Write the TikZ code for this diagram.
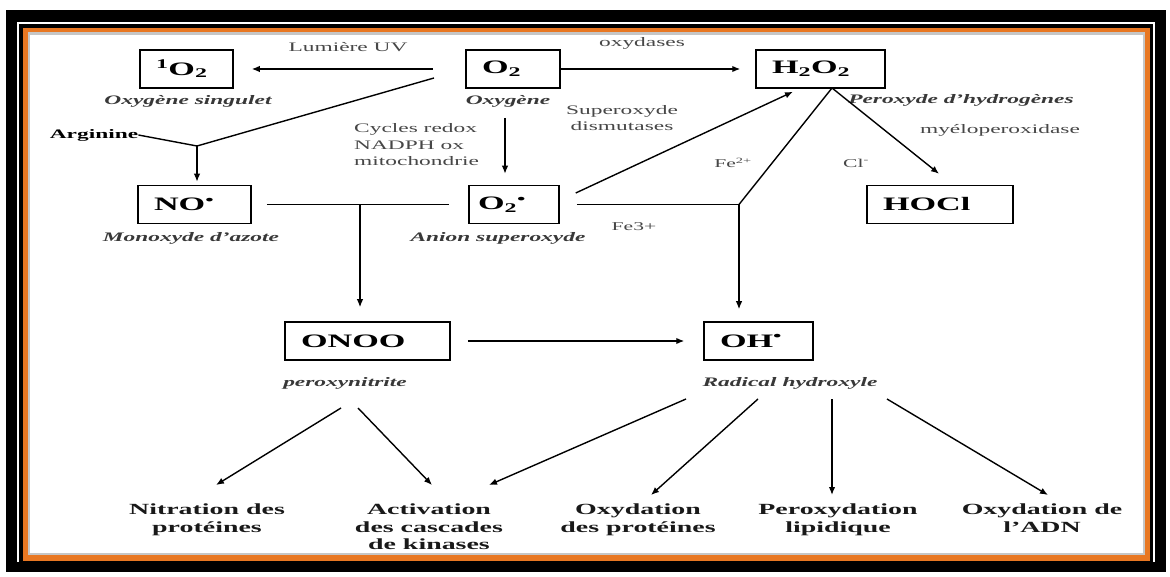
\documentclass[tikz,border=0pt]{standalone}
\usepackage{fontspec}
\setmainfont{Liberation Serif}[FakeStretch=1.8]
\usetikzlibrary{arrows.meta}
\definecolor{frameorange}{RGB}{232,119,34}

\tikzset{
  arr/.style={line width=1.4pt, -{Latex[length=8pt,width=6.5pt]}},
  ln/.style={line width=1.4pt},
  species/.style={draw, line width=1.5pt, minimum height=38pt, inner xsep=16pt,
    inner ysep=0pt, align=left, font=\fontsize{19}{22}\selectfont\bfseries},
  note/.style={font=\fontsize{13}{16.5}\selectfont, text=black!72, inner sep=0pt},
  small note/.style={font=\fontsize{12}{14}\selectfont, text=black!72, inner sep=0pt},
  spname/.style={font=\fontsize{13}{16}\selectfont\bfseries\itshape, text=black!78, inner sep=0pt},
  effect/.style={font=\fontsize{15.5}{17.5}\selectfont\bfseries, align=center,
    inner sep=0pt, anchor=north, text=black!90},
}

\begin{document}
\begin{tikzpicture}[x=1pt,y=-1pt]
\useasboundingbox (0,0) rectangle (1170,577);

% framed page border
\fill[black] (6,10) rectangle (1166,572);
\fill[white] (17,22) rectangle (1155,562);
\fill[black] (19,24) rectangle (1153,562);
\fill[frameorange] (23,28) rectangle (1150,561);
\fill[gray!45] (28,32) rectangle (1145,555);
\fill[white] (30,35) rectangle (1143,553);

% reactive species
\node[species, text width=61pt] (so2) at (186.5,69) {\textsuperscript{1}O\textsubscript{2}};
\node[species, text width=62pt, line width=2.6pt] (o2) at (513,69) {O\textsubscript{2}};
\node[species, text width=97pt] (h2o2) at (820.5,69) {H\textsubscript{2}O\textsubscript{2}};
\node[species, text width=81pt, inner xsep=16pt] (no) at (194.5,204.5) {NO\textsuperscript{•}};
\node[species, text width=72pt, inner xsep=9pt] (o2r) at (514,204.5) {O\textsubscript{2}\textsuperscript{•}};
\node[species, text width=114pt] (hocl) at (940,204.5) {HOCl};
\node[species, text width=133pt] (onoo) at (367.5,341) {ONOO};
\node[species, text width=77pt] (oh) at (758.5,341) {OH\textsuperscript{•}};

% names and reaction conditions
\node[note] (uv) at (348,47) {Lumière UV};
\node[note] (oxyd) at (642,43) {oxydases};
\node[spname] (lso2) at (188,101) {Oxygène singulet};
\node[spname] (lo2) at (508,101) {Oxygène};
\node[spname] (lh2o2) at (961,100) {Peroxyde d'hydrogènes};
\node[note, align=center] (sod) at (622,118) {Superoxyde\\dismutases};
\node[note] (mpo) at (1000,130) {myéloperoxidase};
\node[note, text=black, font=\fontsize{13}{16}\selectfont\bfseries] (arg) at (94,135) {Arginine};
\node[note, align=left, anchor=west] (redox) at (354,145) {Cycles redox\\NADPH ox\\mitochondrie};
\node[small note] (fe2) at (733,163) {Fe\textsuperscript{2+}};
\node[small note] (cl) at (856,163) {Cl\textsuperscript{-}};
\node[small note] (fe3) at (634,227) {Fe3+};
\node[spname] (lno) at (191,238) {Monoxyde d'azote};
\node[spname] (lo2r) at (498,238) {Anion superoxyde};
\node[spname] (lonoo) at (345,383) {peroxynitrite};
\node[spname] (loh) at (790,383) {Radical hydroxyle};

% cellular effects
\node[effect] (nitr) at (207,504) {Nitration des\\protéines};
\node[effect] (kin) at (429,504) {Activation\\des cascades\\de kinases};
\node[effect] (oxprot) at (638,504) {Oxydation\\des protéines};
\node[effect] (lipid) at (838,504) {Peroxydation\\lipidique};
\node[effect] (adn) at (1042,504) {Oxydation de\\l'ADN};

% junction points and free ends
\coordinate (o2out) at (434,78);
\coordinate (argj) at (197,146);
\coordinate (o2down) at (505,118);
\coordinate (nojoin) at (360,204.5);
\coordinate (fejoin) at (739,204.5);
\coordinate (h2out) at (832,88);
\coordinate (pn1) at (341,408);
\coordinate (pn2) at (358,408);
\coordinate (rh1) at (686,399);
\coordinate (rh2) at (758,399);
\coordinate (rh3) at (832,399);
\coordinate (rh4) at (887,399);

% connectors of the top part
\draw[arr, shorten <=32pt, shorten >=18pt] (o2) -- (so2);
\draw[arr, shorten >=15pt] (o2) -- (h2o2);
\draw[ln] (o2out) -- (argj);
\draw[ln] (arg.east) -- (argj);
\draw[arr, shorten >=3pt] (argj) -- (argj |- no.north);
\draw[arr, shorten >=11pt] (o2down) -- (o2down |- o2r.north);
\draw[ln, shorten <=15pt, shorten >=19pt] (no) -- (o2r);
\draw[arr, shorten >=14pt] (nojoin) -- (nojoin |- onoo.north);
\draw[ln, shorten <=17pt] (o2r.east) -- (fejoin);
\draw[arr, shorten >=12pt] (fejoin) -- (fejoin |- oh.north);
\draw[arr] ([shift={(16,-11.5)}]o2r.east) -- ([shift={(-27.5,3)}]h2o2.south);
\draw[ln] (h2out) -- (fejoin);
\draw[arr] (h2out) -- ([shift={(-1,-11)}]hocl.north);
\draw[arr, shorten <=17pt, shorten >=19pt] (onoo) -- (oh);

% connectors to the effects
\draw[arr] (pn1) -- ([shift={(9,-19)}]nitr.north);
\draw[arr] (pn2) -- ([shift={(3,-19)}]kin.north);
\draw[arr] (rh1) -- ([shift={(60,-19)}]kin.north);
\draw[arr] (rh2) -- ([shift={(13,-9)}]oxprot.north);
\draw[arr] (rh3) -- ([shift={(-6,-9)}]lipid.north);
\draw[arr] (rh4) -- ([shift={(6,-9)}]adn.north);
\end{tikzpicture}
\end{document}
